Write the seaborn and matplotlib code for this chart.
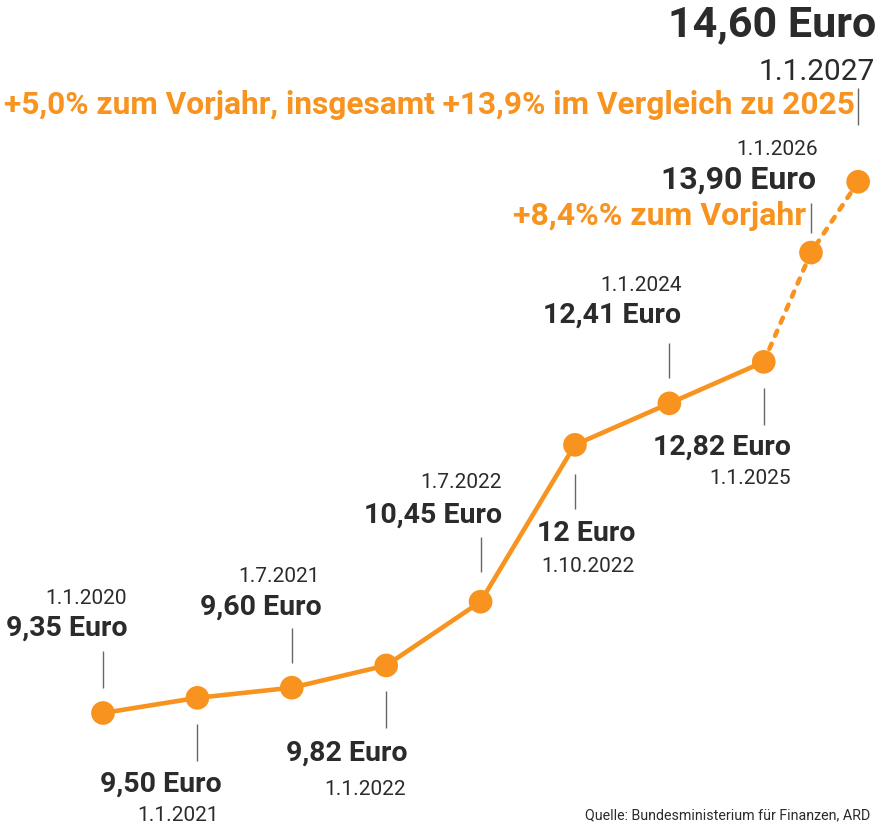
import matplotlib
matplotlib.use('Agg')
import matplotlib.pyplot as plt
import seaborn as sns
import pandas as pd

# Mindestlohn data
dates = ['1.1.2020', '1.1.2021', '1.7.2021', '1.1.2022', '1.7.2022',
         '1.10.2022', '1.1.2024', '1.1.2025', '1.1.2026', '1.1.2027']
wages = [9.35, 9.50, 9.60, 9.82, 10.45, 12.00, 12.41, 12.82, 13.90, 14.60]
wage_labels = ['9,35 Euro', '9,50 Euro', '9,60 Euro', '9,82 Euro', '10,45 Euro',
               '12 Euro', '12,41 Euro', '12,82 Euro', '13,90 Euro', '14,60 Euro']
notes = {8: '+8,4%% zum Vorjahr',
         9: '+5,0% zum Vorjahr, insgesamt +13,9% im Vergleich zu 2025'}
source = 'Quelle: Bundesministerium für Finanzen, ARD'

# layout: x slot per point (last two are half steps)
x_pos = [0, 1, 2, 3, 4, 5, 6, 7, 7.5, 8]

ORANGE = '#F7931E'
DARK = '#2b2b2b'
GREY = '#666666'

sns.set_style('white')
plt.rcParams['font.family'] = ['Roboto', 'DejaVu Sans']

W, H = 893, 840
fig = plt.figure(figsize=(W / 100, H / 100), dpi=100)
ax = fig.add_axes([0, 0, 1, 1])
ax.set_xlim(-1.091, 8.369)
ax.set_ylim(8.095, 16.396)
ax.axis('off')

ppu = H / (16.396 - 8.095)  # pixels per euro


def dy(px):
    return px / ppu


df = pd.DataFrame({'x': x_pos, 'wage': wages})
solid = df.iloc[:8]
dotted = df.iloc[7:]

sns.lineplot(data=solid, x='x', y='wage', color=ORANGE, lw=3.3, ax=ax,
             solid_capstyle='round')
sns.lineplot(data=dotted, x='x', y='wage', color=ORANGE, lw=3.3, ax=ax,
             linestyle=(0, (1.2, 1.9)), dash_capstyle='round')
sns.scatterplot(data=df, x='x', y='wage', color=ORANGE, s=290,
                edgecolor='none', ax=ax, zorder=5)

# per point: leader (from, to) px offset, value (dx, dy), date (dx, dy); + is up
layout = [
    ((25, 62), (25, 85), (24, 115)),
    ((-26, -63), (24, -86), (22, -118)),
    ((25, 60), (30, 81), (28, 111)),
    ((-26, -63), (21, -88), (20, -124)),
    ((30, 65), (21, 87), (21, 119)),
    ((-29, -64), (60, -89), (60, -122)),
    ((25, 60), (12, 88), (12, 118)),
    ((-26, -63), (27, -85), (27, -117)),
    ((20, 50), (5, 73), (7, 103)),
    ((57, 94), (18, 157), (17, 110)),
]
note_off = {8: (-5, 37), 9: (-3, 77)}
note_size = {8: 23, 9: 22.75}
value_size = [20.5] * 8 + [23, 31]
date_size = [15] * 9 + [21.5]

for i, (x, v) in enumerate(zip(x_pos, wages)):
    (l0, l1), (vx, vy), (dx_, dy_) = layout[i]
    ax.vlines(x, v + dy(l0), v + dy(l1), color=GREY, lw=1)
    ax.annotate(wage_labels[i], (x, v), xytext=(vx, vy), textcoords='offset pixels',
                ha='right', va='center', fontsize=value_size[i],
                fontweight='bold', color=DARK)
    ax.annotate(dates[i], (x, v), xytext=(dx_, dy_), textcoords='offset pixels',
                ha='right', va='center', fontsize=date_size[i], color=DARK)
    if i in notes:
        nx, ny = note_off[i]
        ax.annotate(notes[i], (x, v), xytext=(nx, ny), textcoords='offset pixels',
                    ha='right', va='center', fontsize=note_size[i],
                    fontweight='bold', color=ORANGE)

fig.text(870 / W, 1 - 815 / H, source, ha='right', va='center',
         fontsize=10.3, color=DARK)

fig.savefig('out.png', dpi=100)
